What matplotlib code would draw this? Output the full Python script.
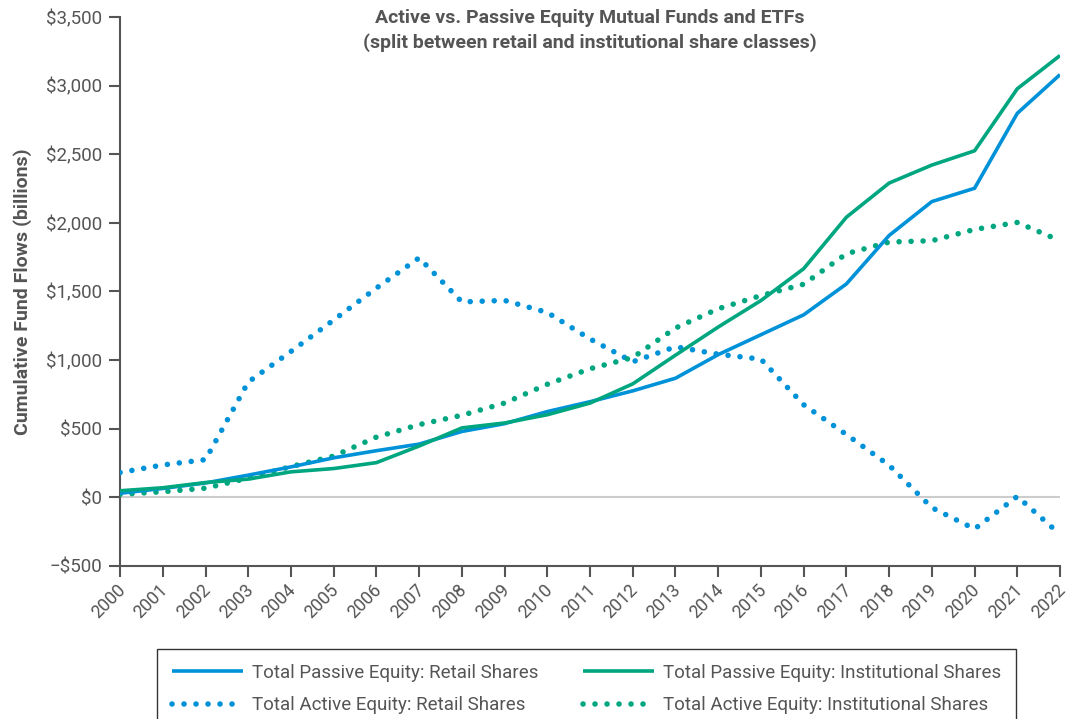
import matplotlib
matplotlib.use("Agg")
import matplotlib.pyplot as plt
import matplotlib.transforms as mtransforms
from matplotlib.ticker import FuncFormatter

years = list(range(2000, 2023))

passive_retail = [30, 65, 105, 162, 222, 288, 340, 388, 480, 537, 625, 697, 776, 868, 1040, 1185, 1330, 1555, 1908, 2155, 2252, 2798, 3080]
passive_inst = [48, 70, 108, 133, 186, 210, 253, 374, 506, 542, 602, 687, 827, 1036, 1241, 1434, 1666, 2041, 2290, 2421, 2525, 2977, 3219]
active_retail = [181, 236, 275, 840, 1063, 1292, 1525, 1745, 1424, 1435, 1347, 1154, 988, 1097, 1043, 1007, 675, 458, 234, -75, -230, 7, -270]
active_inst = [22, 41, 67, 140, 224, 301, 439, 530, 598, 687, 824, 937, 1019, 1234, 1374, 1470, 1553, 1775, 1860, 1870, 1952, 2003, 1870]

series_labels = ["Total Passive Equity: Retail Shares",
                 "Total Passive Equity: Institutional Shares",
                 "Total Active Equity: Retail Shares",
                 "Total Active Equity: Institutional Shares"]
title_text = "Active vs. Passive Equity Mutual Funds and ETFs\n(split between retail and institutional share classes)"
ylabel_text = "Cumulative Fund Flows (billions)"

BLUE = "#0092D8"
GREEN = "#00A67F"
GRAY = "#555555"

plt.rcParams['font.family'] = ['Roboto', 'DejaVu Sans']

fig = plt.figure(figsize=(10.69, 7.19), dpi=100)
ax = fig.add_axes([0.1123, 0.2128, 0.8793, 0.7636])

lw = 2.6
dots = (0, (0.01, 2.15))
l1, = ax.plot(years, passive_retail, color=BLUE, lw=lw, solid_capstyle='butt', zorder=4)
l2, = ax.plot(years, passive_inst, color=GREEN, lw=lw, solid_capstyle='butt', zorder=4)
l3, = ax.plot(years, active_retail, color=BLUE, lw=4.0, linestyle=dots, dash_capstyle='round', zorder=3)
l4, = ax.plot(years, active_inst, color=GREEN, lw=4.0, linestyle=dots, dash_capstyle='round', zorder=3)

ax.axhline(0, color="#cccccc", lw=1.5, zorder=1)

ax.set_xlim(2000, 2022)
ax.set_ylim(-500, 3500)
ax.set_yticks(range(-500, 3501, 500))
ax.set_xticks(years)
ax.yaxis.set_major_formatter(FuncFormatter(lambda v, p: ("\u2212$" if v < 0 else "$") + f"{abs(int(v)):,}"))

for s in ["top", "right"]:
    ax.spines[s].set_visible(False)
for s in ["left", "bottom"]:
    ax.spines[s].set_color(GRAY)
    ax.spines[s].set_linewidth(1.5)
ax.tick_params(axis='both', colors=GRAY, width=1.5, length=8, labelsize=13.5, labelcolor=GRAY)
ax.tick_params(axis='y', pad=5)
ax.tick_params(axis='x', pad=3)
shift = mtransforms.ScaledTranslation(-4 / 100, 0, fig.dpi_scale_trans)
for lab in ax.get_xticklabels():
    lab.set_rotation(45)
    lab.set_ha('right')
    lab.set_rotation_mode('anchor')
    lab.set_fontsize(12.8)
    lab.set_transform(lab.get_transform() + shift)

ax.set_ylabel(ylabel_text, fontsize=14, fontweight='bold', color=GRAY, labelpad=10)

fig.text(0.552, 1 - 9 / 719, title_text, ha='center', va='top',
         fontsize=14, fontweight='bold', color=GRAY, linespacing=1.45)

leg = fig.legend([l1, l3, l2, l4], [series_labels[0], series_labels[2], series_labels[1], series_labels[3]],
                 ncol=2, loc='upper left', bbox_to_anchor=(157 / 1069, 1 - 649 / 719),
                 frameon=True, fancybox=False, edgecolor='black',
                 fontsize=13.5, handlelength=3.8, handletextpad=0.45, labelspacing=0.75,
                 borderpad=0.8, columnspacing=2.4, borderaxespad=0)
leg.get_frame().set_linewidth(1.0)
for t in leg.get_texts():
    t.set_color(GRAY)

fig.savefig("out.png", dpi=100)
